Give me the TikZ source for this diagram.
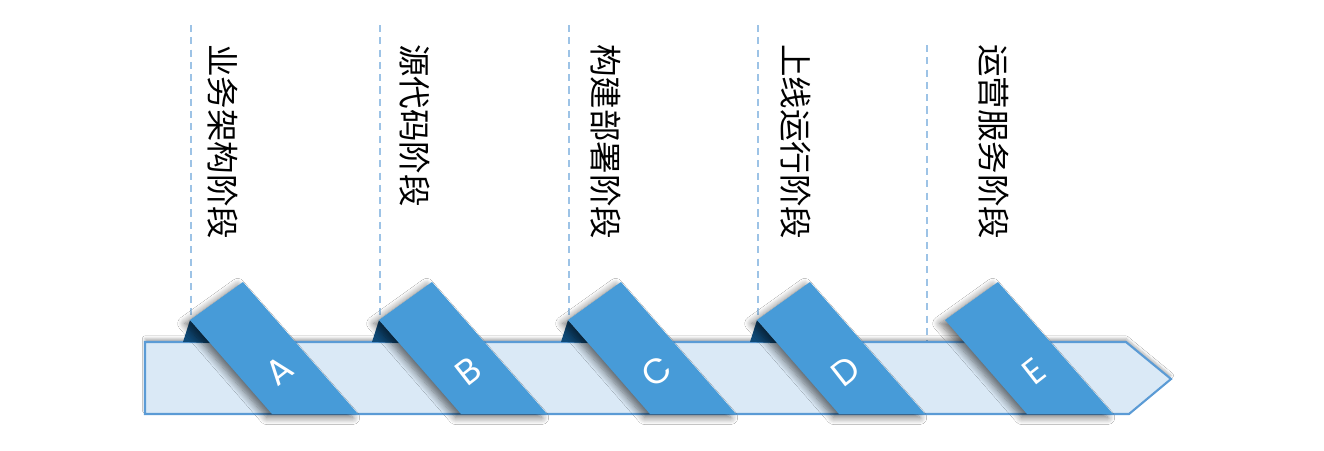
\documentclass[tikz,border=0pt]{standalone}
\usepackage{fontspec}
\newfontfamily\cjk{Noto Sans CJK SC}
\newfontfamily\latf{Poppins}
\usetikzlibrary{shadows.blur}
\definecolor{bandblue}{HTML}{479BD8}
\definecolor{barfill}{HTML}{DAE9F6}
\definecolor{barline}{HTML}{5B9BD5}
\definecolor{dashblue}{HTML}{9DC3E6}
\definecolor{folddark}{HTML}{0F4A78}
\tikzset{
  barshape/.style={fill=barfill, draw=barline, line width=1.2pt, line join=miter,
    blur shadow={shadow xshift=0pt, shadow yshift=2pt, shadow blur steps=5, shadow blur radius=1.5pt, shadow opacity=30}},
  bandshape/.style={fill=bandblue,
    blur shadow={shadow xshift=-3pt, shadow yshift=-2pt, shadow blur steps=8, shadow blur radius=4pt, shadow opacity=55}},
  foldshape/.style={fill=folddark},
  guideline/.style={draw=dashblue, line width=0.8pt, dash pattern=on 4pt off 3pt},
  stagetext/.style={font=\cjk\fontsize{18.5}{18.5}\selectfont, rotate=-90, anchor=west, inner sep=0pt, text=black},
  bandletter/.style={font=\latf\fontsize{20}{20}\selectfont, text=white, rotate=38, inner sep=0pt}
}
\begin{document}
\begin{tikzpicture}[x=0.02cm,y=-0.02cm]
\useasboundingbox (0,0) rectangle (1324,450);
\fill[white] (0,0) rectangle (1324,450);

% guide lines
\foreach \i/\gx/\gt/\gb in {a/191/25/320, b/380/25/320, c/569/25/320, d/758/25/320, e/927/45/341}{
  \coordinate (top\i) at (\gx,\gt);
  \coordinate (bot\i) at (\gx,\gb);
  \draw[guideline] (top\i) -- (bot\i);
}

% main bar
\path[barshape] (145,342) -- (1126,342) -- (1171,379) -- (1129,414) -- (145,414) -- cycle;

% folds
\foreach \o in {0,189,378,567}{
  \fill[foldshape] (183+\o,342) -- (190+\o,320) -- (210+\o,343) -- cycle;
}

% bands
\foreach \o/\l/\n in {0/A/la,189/B/lb,378/C/lc,567/D/ld,755/E/le}{
  \path[bandshape] (190+\o,320) -- (243+\o,282) -- (358+\o,414) -- (272+\o,414) -- cycle;
  \node[bandletter] (\n) at (279+\o,371) {\l};
}

% stage texts
\node[stagetext] (sa) at (223,44) {业务架构阶段};
\node[stagetext] (sb) at (415,44) {源代码阶段};
\node[stagetext] (sc) at (606,44) {构建部署阶段};
\node[stagetext] (sd) at (796,44) {上线运行阶段};
\node[stagetext] (se) at (994,44) {运营服务阶段};
\end{tikzpicture}
\end{document}
